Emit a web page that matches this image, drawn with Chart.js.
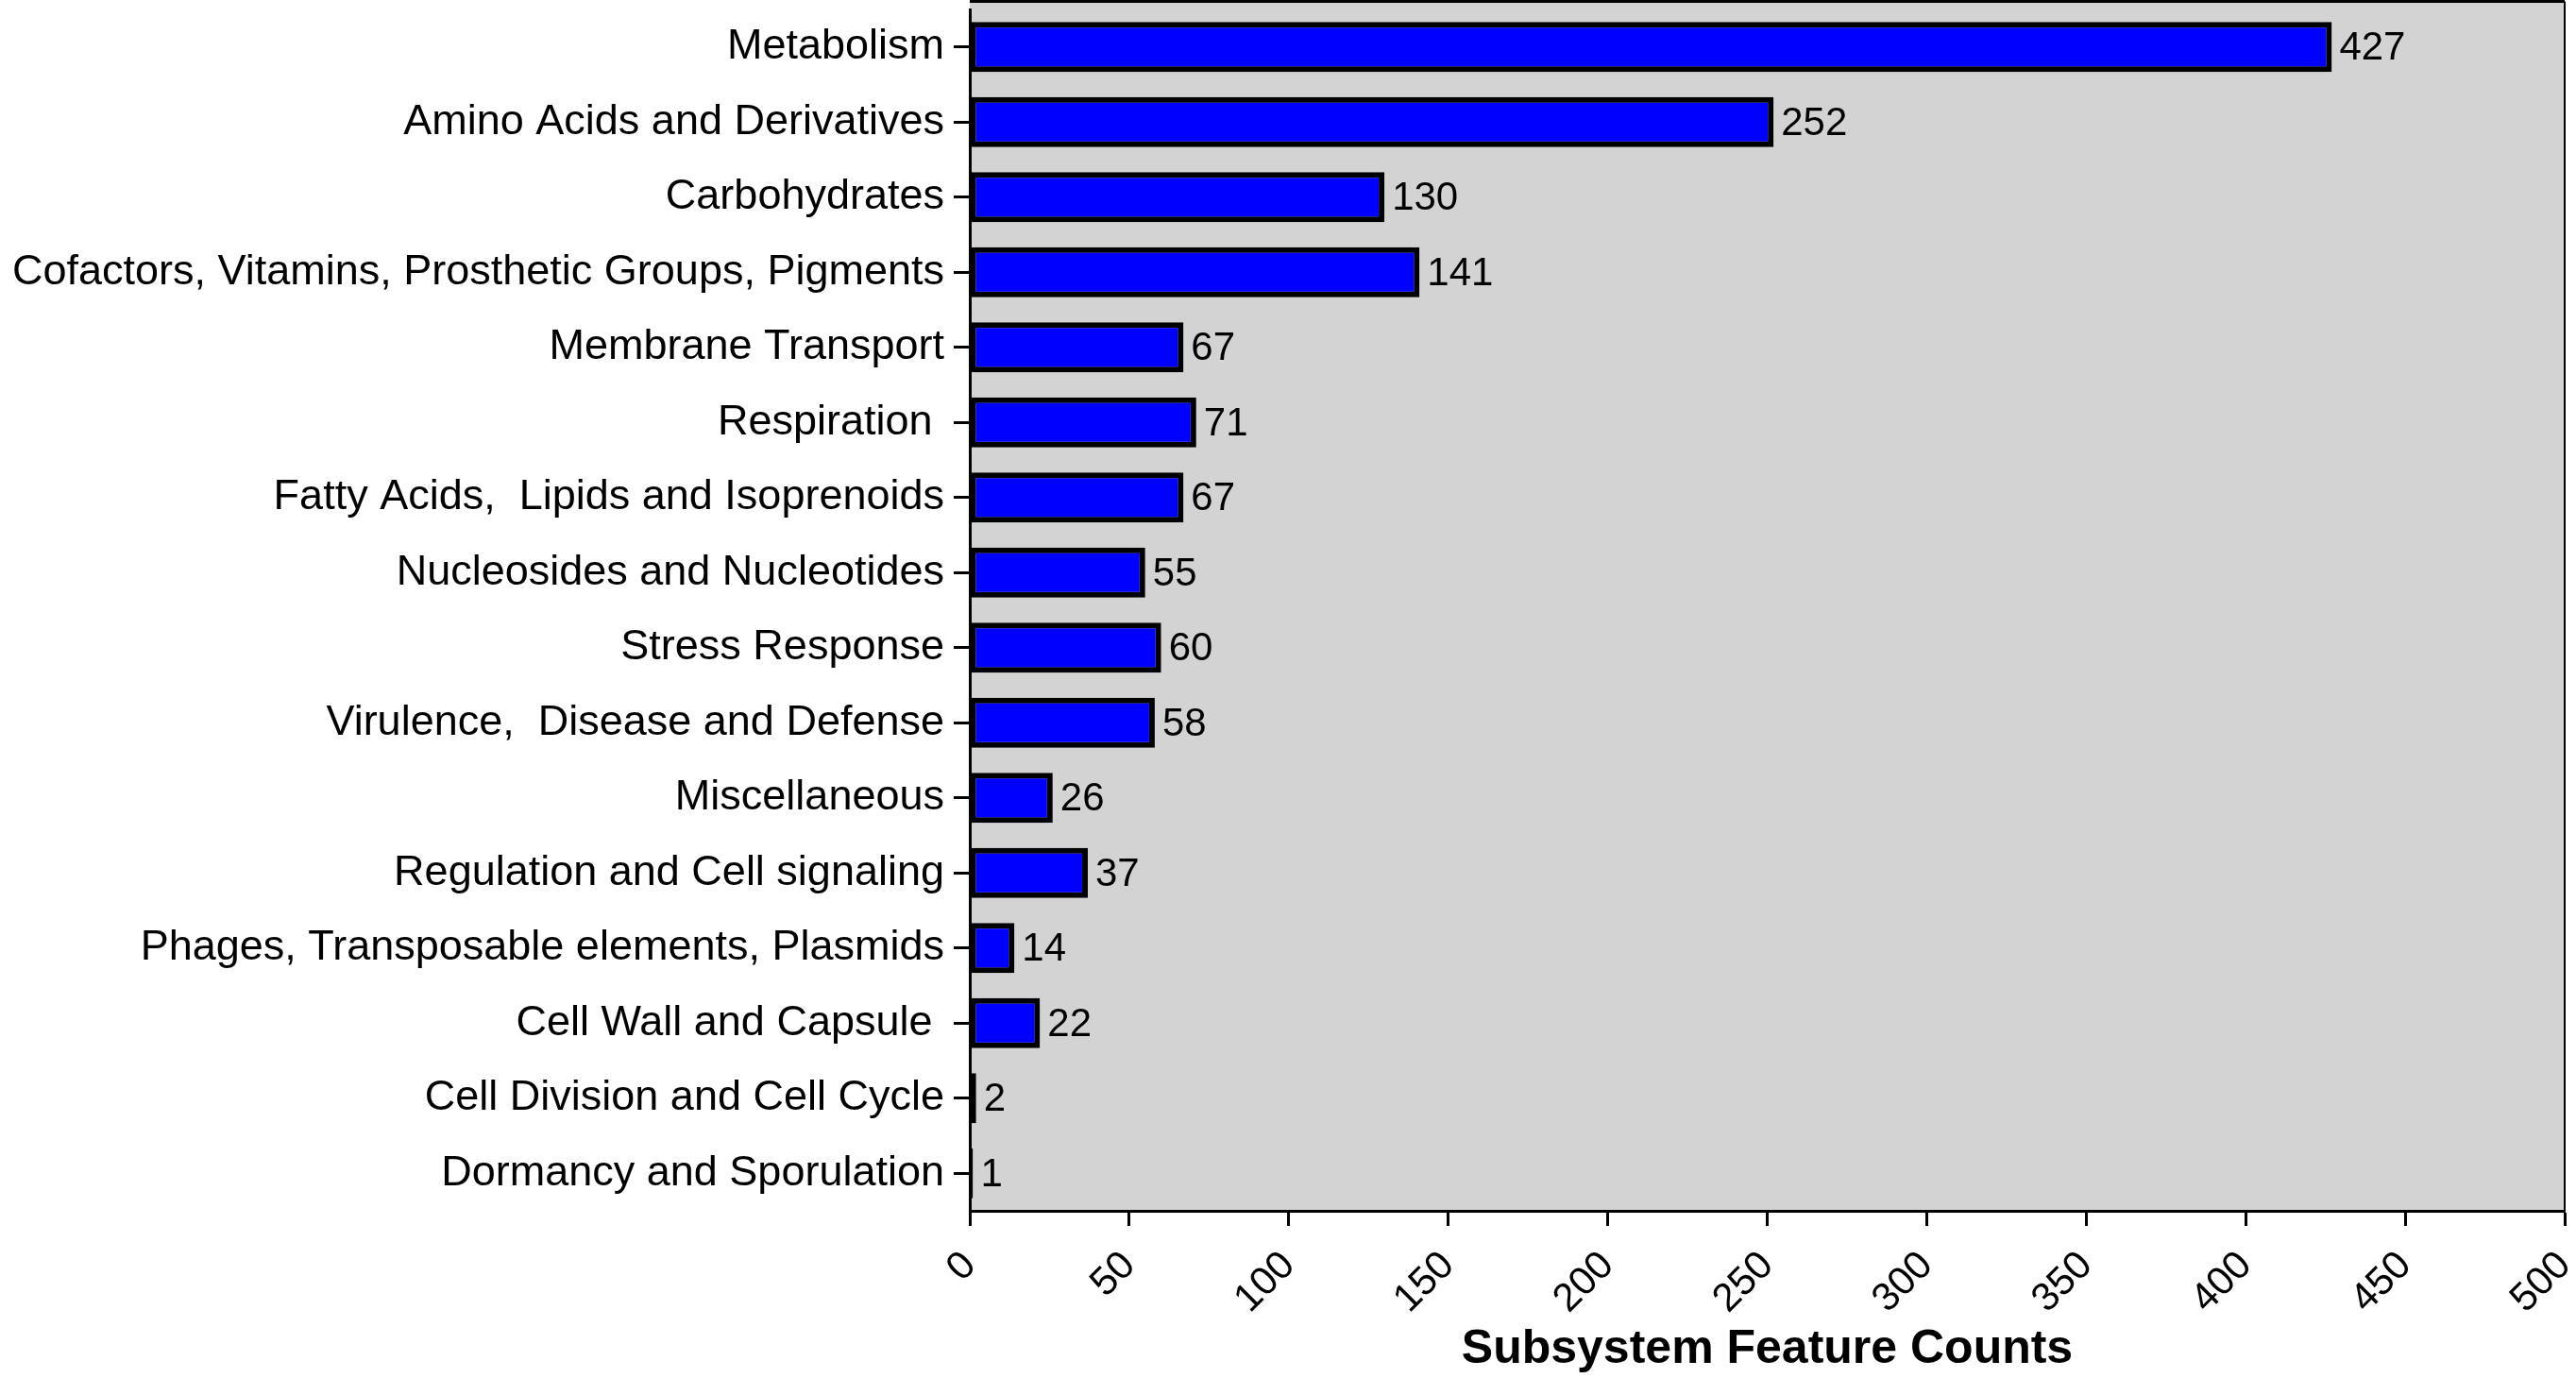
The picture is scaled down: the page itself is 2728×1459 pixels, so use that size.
<!DOCTYPE html>
<html>
<head>
<meta charset="utf-8">
<script src="https://cdn.jsdelivr.net/npm/chart.js@4"></script>
<style>
  html, body { margin: 0; padding: 0; background: #fff; }
  canvas { display: block; }
</style>
</head>
<body>
<canvas id="grafik" width="2728" height="1459"></canvas>
<script>
const categories = [
  "Metabolism",
  "Amino Acids and Derivatives",
  "Carbohydrates",
  "Cofactors, Vitamins, Prosthetic Groups, Pigments",
  "Membrane Transport",
  "Respiration ",
  "Fatty Acids,  Lipids and Isoprenoids",
  "Nucleosides and Nucleotides",
  "Stress Response",
  "Virulence,  Disease and Defense",
  "Miscellaneous",
  "Regulation and Cell signaling",
  "Phages, Transposable elements, Plasmids",
  "Cell Wall and Capsule ",
  "Cell Division and Cell Cycle",
  "Dormancy and Sporulation",
];
const counts = [427, 252, 130, 141, 67, 71, 67, 55, 60, 58, 26, 37, 14, 22, 2, 1];
const xTicks = [0, 50, 100, 150, 200, 250, 300, 350, 400, 450, 500];
const xTitle = "Subsystem Feature Counts";

const fam = "'Liberation Sans', Arial, sans-serif";

// grey plot box with thin frame on top and right
const frame = {
  id: "frame",
  beforeDraw(c) {
    const a = c.chartArea;
    const ctx = c.ctx;
    const top = a.top - 8.5;
    ctx.save();
    ctx.fillStyle = "#d3d3d3";
    ctx.fillRect(a.left, top, a.right - a.left, a.bottom - top);
    ctx.strokeStyle = "#000";
    ctx.lineWidth = 3;
    ctx.beginPath();
    ctx.moveTo(a.left, top);
    ctx.lineTo(a.right, top);
    ctx.stroke();
    ctx.lineWidth = 2;
    ctx.beginPath();
    ctx.moveTo(a.right, top);
    ctx.lineTo(a.right, a.bottom);
    ctx.stroke();
    ctx.restore();
  },
};

// value next to each bar
const barValues = {
  id: "barValues",
  afterDatasetsDraw(c) {
    const ctx = c.ctx;
    const meta = c.getDatasetMeta(0);
    ctx.save();
    ctx.font = "42px " + fam;
    ctx.fillStyle = "#000";
    ctx.textAlign = "left";
    ctx.textBaseline = "middle";
    meta.data.forEach((bar, i) => {
      ctx.fillText(String(counts[i]), bar.x + 8, bar.y + 2);
    });
    ctx.restore();
  },
};

new Chart(document.querySelector("#grafik"), {
  type: "bar",
  data: {
    labels: categories,
    datasets: [
      {
        data: counts,
        backgroundColor: "#0000ff",
        borderColor: "#000",
        borderWidth: 6,
        borderSkipped: false,
        barPercentage: 0.667,
        categoryPercentage: 1,
      },
    ],
  },
  options: {
    indexAxis: "y",
    responsive: false,
    devicePixelRatio: 1,
    animation: false,
    layout: { padding: { top: 10, right: 12, left: 0, bottom: 0 } },
    plugins: {
      legend: { display: false },
      tooltip: { enabled: false },
    },
    scales: {
      y: {
        grid: { offset: false, drawOnChartArea: false, tickLength: 17, tickWidth: 3, tickColor: "#000" },
        border: { color: "#000", width: 3 },
        ticks: { color: "#000", font: { size: 45, family: fam }, padding: 10, autoSkip: false },
        afterFit: (s) => {
          s.width = 1027;
          s.paddingTop = 0;
          s.paddingBottom = 0;
        },
      },
      x: {
        min: xTicks[0],
        max: xTicks[xTicks.length - 1],
        afterBuildTicks: (s) => { s.ticks = xTicks.map((v) => ({ value: v })); },
        grid: { drawOnChartArea: false, tickLength: 16, tickWidth: 3, tickColor: "#000" },
        border: { color: "#000", width: 3 },
        ticks: { color: "#000", font: { size: 42, family: fam, lineHeight: 1.5 }, minRotation: 45, maxRotation: 45, padding: 13 },
        title: {
          display: true,
          text: xTitle,
          color: "#000",
          font: { size: 50, weight: "bold", family: fam },
          padding: { top: 0, bottom: 0 },
        },
        afterFit: (s) => {
          s.height = 177;
          s.paddingLeft = 0;
          s.paddingRight = 0;
        },
      },
    },
  },
  plugins: [frame, barValues],
});
</script>
</body>
</html>
